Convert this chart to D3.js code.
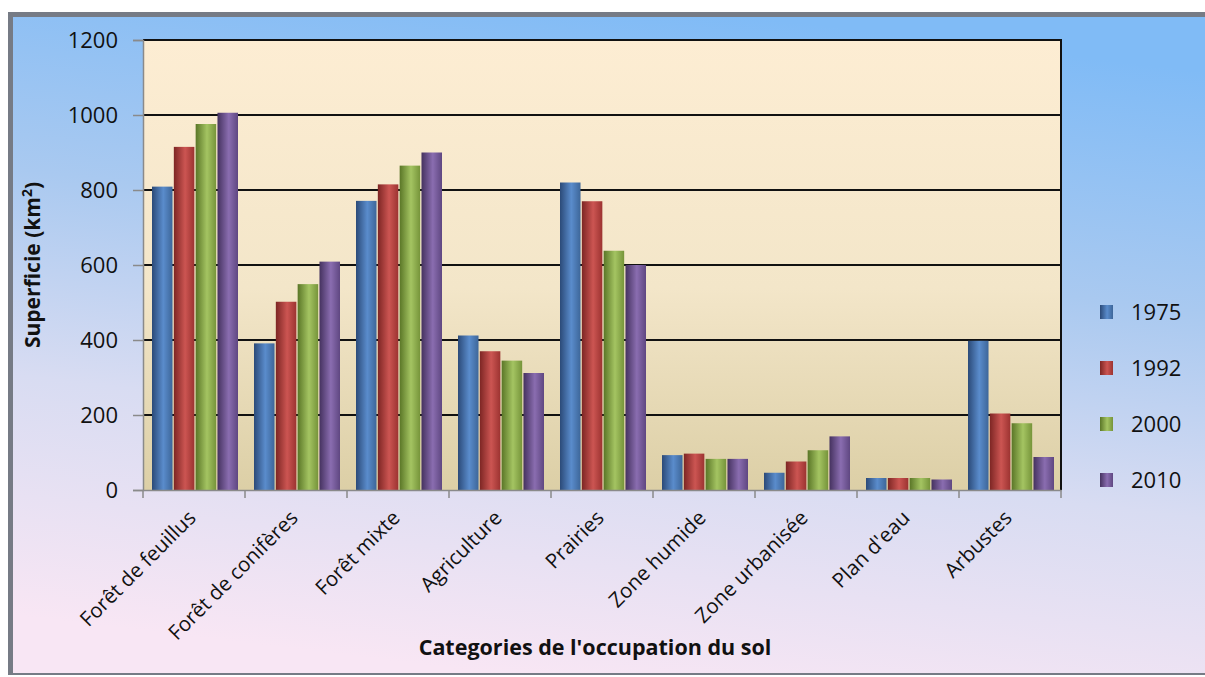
<!DOCTYPE html>
<html>
<head>
<meta charset="utf-8">
<script src="https://cdn.jsdelivr.net/npm/d3@7"></script>
<style>
  body { margin: 0; background: #fff; }
  text { font-family: "Open Sans", "Noto Sans", sans-serif; fill: #111; }
</style>
</head>
<body>
<div class="chart"></div>
<script>
var categories = ["Forêt de feuillus", "Forêt de conifères", "Forêt mixte", "Agriculture",
    "Prairies", "Zone humide", "Zone urbanisée", "Plan d'eau", "Arbustes"];
var years = ["1975", "1992", "2000", "2010"];
var values1975 = [809, 391, 771, 412, 820, 93, 46, 32, 398];
var values1992 = [915, 502, 815, 370, 770, 97, 76, 32, 204];
var values2000 = [976, 549, 865, 345, 638, 83, 106, 32, 178];
var values2010 = [1006, 609, 900, 312, 600, 83, 143, 28, 88];
var yTicks = [0, 200, 400, 600, 800, 1000, 1200];

var series = [values1975, values1992, values2000, values2010];
var palette = [
    ["#2b4a78", "#5a8ccc", "#3d6699"],
    ["#7d2624", "#cc5552", "#9c3331"],
    ["#5a7627", "#a4c462", "#76943a"],
    ["#45325f", "#8a6db0", "#5f4781"]
];

var w = 1205, h = 677;
var svg = d3.select(".chart").append("svg")
    .attr("width", w)
    .attr("height", h);

var defs = svg.append("defs");

var bg = defs.append("linearGradient").attr("id", "bg")
    .attr("x1", 0.62).attr("y1", 0).attr("x2", 0.4).attr("y2", 1);
bg.append("stop").attr("offset", "0%").attr("stop-color", "#80bbf6");
bg.append("stop").attr("offset", "35%").attr("stop-color", "#a9c9f0");
bg.append("stop").attr("offset", "65%").attr("stop-color", "#d8dcf2");
bg.append("stop").attr("offset", "100%").attr("stop-color", "#f8e6f4");

var plotBg = defs.append("linearGradient").attr("id", "plotbg")
    .attr("x1", 0).attr("y1", 0).attr("x2", 0).attr("y2", 1);
plotBg.append("stop").attr("offset", "0%").attr("stop-color", "#fdedd3");
plotBg.append("stop").attr("offset", "55%").attr("stop-color", "#f3e6c9");
plotBg.append("stop").attr("offset", "100%").attr("stop-color", "#dccfa6");

palette.forEach(function (p, i) {
    var g = defs.append("linearGradient").attr("id", "bar" + i)
        .attr("x1", 0).attr("y1", 0).attr("x2", 1).attr("y2", 0);
    g.append("stop").attr("offset", "0%").attr("stop-color", p[0]);
    g.append("stop").attr("offset", "55%").attr("stop-color", p[1]);
    g.append("stop").attr("offset", "100%").attr("stop-color", p[2]);
});

// frame with shadow
svg.append("rect").attr("x", 8).attr("y", 12).attr("width", w - 8).attr("height", h - 14)
    .attr("fill", "#767b85");
svg.append("rect").attr("x", 13).attr("y", 17).attr("width", w - 13).attr("height", h - 21)
    .attr("fill", "url(#bg)");

var margin = { left: 143, top: 40, right: 1061, bottom: 490 };

var x = d3.scaleBand().domain(categories).range([margin.left, margin.right]).paddingInner(0).paddingOuter(0);
var xs = d3.scaleBand().domain(years).range([9, x.bandwidth() - 7]).paddingInner(0.06);
var y = d3.scaleLinear().domain([0, 1200]).range([margin.bottom, margin.top]);

svg.append("rect")
    .attr("x", margin.left).attr("y", margin.top)
    .attr("width", margin.right - margin.left).attr("height", margin.bottom - margin.top)
    .attr("fill", "url(#plotbg)");

// gridlines
svg.append("g").selectAll("line")
    .data(yTicks.filter(function (d) { return d > 0; }))
    .enter().append("line")
    .attr("x1", margin.left).attr("x2", margin.right)
    .attr("y1", function (d) { return y(d); }).attr("y2", function (d) { return y(d); })
    .attr("stroke", "#111").attr("stroke-width", 2);

svg.append("line")
    .attr("x1", margin.right).attr("x2", margin.right)
    .attr("y1", margin.top - 1).attr("y2", margin.bottom)
    .attr("stroke", "#111").attr("stroke-width", 2);

// bars
var groups = svg.append("g").selectAll("g")
    .data(categories)
    .enter().append("g")
    .attr("transform", function (d) { return "translate(" + x(d) + ",0)"; });

groups.selectAll("rect")
    .data(function (d, i) { return series.map(function (s, k) { return { year: years[k], v: s[i], k: k }; }); })
    .enter().append("rect")
    .attr("x", function (d) { return xs(d.year); })
    .attr("width", xs.bandwidth())
    .attr("y", function (d) { return y(d.v); })
    .attr("height", function (d) { return y(0) - y(d.v); })
    .attr("fill", function (d) { return "url(#bar" + d.k + ")"; });

// axes
var yAxis = svg.append("g")
    .attr("transform", "translate(" + margin.left + ",0)")
    .call(d3.axisLeft(y).tickValues(yTicks).tickFormat(d3.format("d")).tickSize(10).tickPadding(15));
yAxis.select(".domain").attr("stroke", "#8a8a8a").attr("stroke-width", 1.5);
yAxis.selectAll(".tick line").attr("stroke", "#8a8a8a").attr("stroke-width", 1.5);
yAxis.selectAll("text").attr("font-size", 22).attr("fill", "#1a2030")
    .style("font-family", "'Open Sans', sans-serif");

var xAxis = svg.append("g")
    .attr("transform", "translate(0," + margin.bottom + ")")
    .call(d3.axisBottom(x).tickSize(0).tickFormat(""));
xAxis.select(".domain").attr("stroke", "#8a8a8a").attr("stroke-width", 1.5);

svg.append("g").selectAll("line")
    .data(categories.concat(["end"]))
    .enter().append("line")
    .attr("x1", function (d, i) { return margin.left + i * x.step(); })
    .attr("x2", function (d, i) { return margin.left + i * x.step(); })
    .attr("y1", margin.bottom).attr("y2", margin.bottom + 8)
    .attr("stroke", "#8a8a8a").attr("stroke-width", 1.5);

svg.append("g").selectAll("text")
    .data(categories)
    .enter().append("text")
    .attr("transform", function (d) {
        return "translate(" + (x(d) + x.bandwidth() / 2 - 2) + "," + (margin.bottom + 24) + ") rotate(-45)";
    })
    .attr("text-anchor", "end")
    .attr("dy", "0.35em")
    .attr("font-size", 20.5)
    .attr("fill", "#1a1a1a")
    .text(function (d) { return d; });

// axis titles
var yTitle = svg.append("text")
    .attr("transform", "translate(40," + ((margin.top + margin.bottom) / 2 + 0) + ") rotate(-90)")
    .attr("text-anchor", "middle")
    .attr("font-size", 21)
    .attr("font-weight", "bold");
yTitle.append("tspan").text("Superficie (km");
yTitle.append("tspan").attr("font-size", 14).attr("dy", -8).text("2");
yTitle.append("tspan").attr("dy", 8).text(")");

svg.append("text")
    .attr("x", 595).attr("y", 655)
    .attr("text-anchor", "middle")
    .attr("font-size", 21.5)
    .attr("font-weight", "bold")
    .text("Categories de l'occupation du sol");

// legend
var legend = svg.append("g").selectAll("g")
    .data(years)
    .enter().append("g")
    .attr("transform", function (d, i) { return "translate(1100," + (312 + i * 56) + ")"; });

legend.append("rect")
    .attr("x", 0).attr("y", -7)
    .attr("width", 13).attr("height", 14)
    .attr("fill", function (d, i) { return "url(#bar" + i + ")"; });

legend.append("text")
    .attr("x", 31).attr("dy", "0.35em")
    .attr("font-size", 22)
    .attr("fill", "#1a2030")
    .text(function (d) { return d; });
</script>
</body>
</html>
